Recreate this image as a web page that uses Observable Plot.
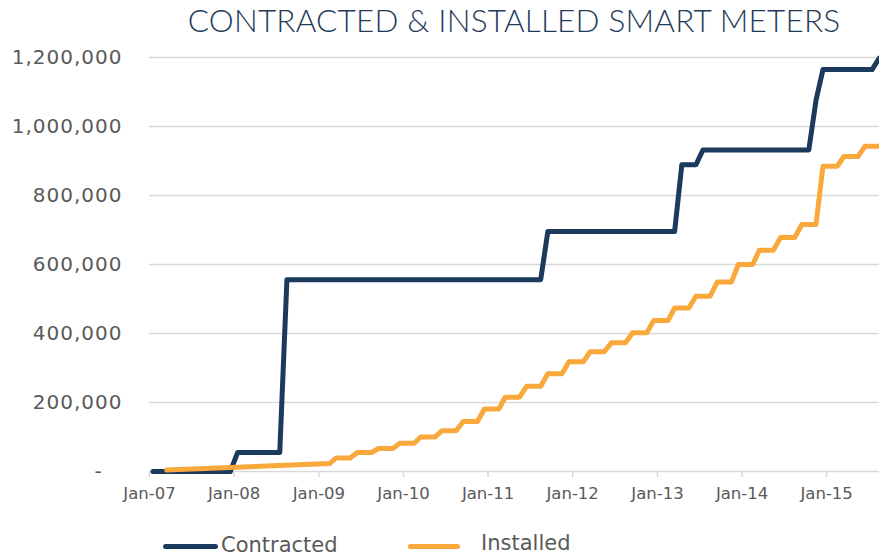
<!DOCTYPE html>
<html><head><meta charset="utf-8">
<script src="https://cdn.jsdelivr.net/npm/d3@7"></script>
<script src="https://cdn.jsdelivr.net/npm/@observablehq/plot@0.6"></script>
<style>
html,body{margin:0;padding:0;background:#fff;}
body{width:879px;height:556px;overflow:hidden;position:relative;font-family:"DejaVu Sans",sans-serif;}
#title{position:absolute;left:149px;width:730px;top:1px;text-align:center;font-family:"Lato",sans-serif;font-weight:300;font-size:31.5px;color:#1f3b5a;letter-spacing:0.2px;white-space:nowrap;}
#chart{position:absolute;left:0;top:45px;}
.sw{position:absolute;height:5px;border-radius:3px;}
.lt{position:absolute;font-size:21px;color:#595959;white-space:nowrap;}
</style></head><body>
<div id="title">CONTRACTED &amp; INSTALLED SMART METERS</div>
<div id="chart"></div>
<div class="sw" style="left:163px;top:544px;width:55px;background:#1b3a5c"></div>
<div class="lt" style="left:221px;top:533px;">Contracted</div>
<div class="sw" style="left:408px;top:544px;width:52px;background:#f9a83c"></div>
<div class="lt" style="left:481px;top:531px;">Installed</div>
<script>
// Contracted: months where the level changes (corner points of the step line)
const contractedMonths = ["2007-01","2007-12","2008-01","2008-07","2008-08","2011-08","2011-09","2013-03","2013-04","2013-06","2013-07","2014-10","2014-11","2014-12","2015-07","2015-08"];
const contractedValues = [0,0,55000,55000,556000,556000,696000,696000,889000,889000,932000,932000,1076000,1165000,1165000,1198000];

// Installed: early readings, then quarterly levels (held for three months)
const installedEarlyMonths = ["2007-03","2009-02"];
const installedEarlyValues = [4000,23000];
const installedQuarters = ["2009-03","2009-06","2009-09","2009-12","2010-03","2010-06","2010-09","2010-12","2011-03","2011-06","2011-09","2011-12","2012-03","2012-06","2012-09","2012-12","2013-03","2013-06","2013-09","2013-12","2014-03","2014-06","2014-09","2014-12","2015-03","2015-06"];
const installedQuarterValues = [39000,55000,67000,82000,100000,118000,145000,181000,215000,247000,283000,318000,347000,373000,402000,438000,474000,508000,549000,600000,641000,678000,716000,885000,913000,943000];

const yTicks = [0,200000,400000,600000,800000,1000000,1200000];
const xTickYears = [2007,2008,2009,2010,2011,2012,2013,2014,2015];
const xTickLabels = ["Jan-07","Jan-08","Jan-09","Jan-10","Jan-11","Jan-12","Jan-13","Jan-14","Jan-15"];

const mid = (s, add = 0) => { const [y, m] = s.split("-").map(Number); return new Date(Date.UTC(y, m - 1 + add, 16)); };

const contracted = contractedMonths.map((m, i) => ({date: mid(m), value: contractedValues[i]}));
const installed = installedEarlyMonths.map((m, i) => ({date: mid(m), value: installedEarlyValues[i]}));
installedQuarters.forEach((q, i) => {
  installed.push({date: mid(q), value: installedQuarterValues[i]});
  installed.push({date: mid(q, 2), value: installedQuarterValues[i]});
});

const xTicks = xTickYears.map(y => new Date(Date.UTC(y, 0, 1)));
const fmt = d3.format(",");

const chart = Plot.plot({
  width: 879, height: 470,
  marginLeft: 149, marginRight: 0, marginTop: 12, marginBottom: 44,
  x: {type: "utc", domain: [new Date(Date.UTC(2007,0,1)), new Date(Date.UTC(2015,7,17))]},
  y: {domain: [0, 1200000]},
  style: {fontFamily: "DejaVu Sans, sans-serif", background: "#fff", color: "#595959", overflow: "visible"},
  marks: [
    Plot.gridY(yTicks.filter(d => d > 0), {stroke: "#d9d9d9", strokeOpacity: 1, strokeWidth: 1.5}),
    Plot.ruleY([0], {stroke: "#d9d9d9", strokeWidth: 1.5}),
    Plot.axisX(xTicks, {tickSize: 6, tickPadding: 10, stroke: "#d9d9d9", strokeWidth: 1.5, fill: "#595959", fontSize: 16.5, tickFormat: (d) => xTickLabels[xTicks.findIndex(t => +t === +d)], label: null}),
    Plot.axisY(yTicks, {tickSize: 0, tickPadding: 27, fill: "#595959", fontSize: 20, tickFormat: d => d === 0 ? "-\u00a0\u00a0\u2009" : fmt(d), label: null}),
    Plot.line(contracted, {x: "date", y: "value", stroke: "#1b3a5c", strokeWidth: 5, strokeLinecap: "round", strokeLinejoin: "round"}),
    Plot.line(installed, {x: "date", y: "value", stroke: "#f9a83c", strokeWidth: 5, strokeLinecap: "round", strokeLinejoin: "round"})
  ]
});
const yLab = chart.querySelector('[aria-label="y-axis tick label"]');
if (yLab) yLab.style.letterSpacing = "1px";
document.getElementById("chart").appendChild(chart);
</script>
</body></html>
